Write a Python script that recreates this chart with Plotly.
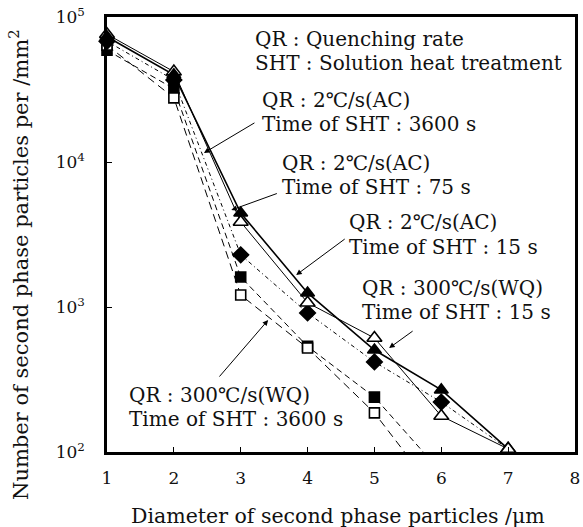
import plotly.graph_objects as go

# Particle diameter classes (um)
diameter = [1, 2, 3, 4, 5, 6, 7]
wq_diameter = [1, 2, 3, 4, 5]

# Number of second phase particles per mm^2
ac_3600 = [73000, 40000, 4450, 1250, 505, 268, 105]   # QR 2 C/s (AC), SHT 3600 s
ac_75 = [76000, 42000, 3860, 1070, 611, 177, 105]     # QR 2 C/s (AC), SHT 75 s
ac_15 = [68000, 36800, 2290, 910, 418, 221, 105]      # QR 2 C/s (AC), SHT 15 s
wq_15 = [59000, 32000, 1610, 535, 239]                # QR 300 C/s (WQ), SHT 15 s
wq_3600 = [64000, 27700, 1210, 521, 186]              # QR 300 C/s (WQ), SHT 3600 s

# Where the WQ curves run out to the lower axis
wq_15_tail = (5.73, 100)
wq_3600_tail = (5.45, 100)

x_ticks = [1, 2, 3, 4, 5, 6, 7, 8]
y_ticks = [100, 1000, 10000, 100000]
y_ticktext = ["10<sup>2</sup>", "10<sup>3</sup>", "10<sup>4</sup>", "10<sup>5</sup>"]

FONT = "DejaVu Serif"
W, H = 583, 527
ML, MR, MT, MB = 107, 3, 17, 75
PW, PH = W - ML - MR, H - MT - MB


def paper(px, py):
    return (px - ML) / PW, (H - MB - py) / PH


fig = go.Figure()

# curves
fig.add_trace(go.Scatter(x=wq_diameter + [wq_3600_tail[0]], y=wq_3600 + [wq_3600_tail[1]],
                         mode="lines", line=dict(color="black", width=1, dash="8px,5px"),
                         hoverinfo="skip"))
fig.add_trace(go.Scatter(x=wq_diameter + [wq_15_tail[0]], y=wq_15 + [wq_15_tail[1]],
                         mode="lines", line=dict(color="black", width=1, dash="6px,4px"),
                         hoverinfo="skip"))
fig.add_trace(go.Scatter(x=diameter, y=ac_15, mode="lines",
                         line=dict(color="black", width=1, dash="4px,3px,1px,3px"),
                         hoverinfo="skip"))
fig.add_trace(go.Scatter(x=diameter, y=ac_75, mode="lines",
                         line=dict(color="black", width=1), hoverinfo="skip"))
fig.add_trace(go.Scatter(x=diameter, y=ac_3600, mode="lines",
                         line=dict(color="black", width=1.6), hoverinfo="skip"))


# markers
def markers(xs, ys, symbol, size, fill):
    fig.add_trace(go.Scatter(
        x=xs, y=ys, mode="markers", cliponaxis=False,
        marker=dict(symbol=symbol, size=size, color=fill,
                    line=dict(color="black", width=1.6))))


markers(wq_diameter, wq_15, "square", 10, "black")
markers(wq_diameter, wq_3600, "square", 10, "white")
markers(diameter[:-1], ac_15, "diamond", 12, "black")
markers(diameter, ac_75, "triangle-up", 13, "white")
markers(diameter[:-1], ac_3600[:-1], "triangle-up", 12, "black")
markers(diameter[-1:], ac_75[-1:], "triangle-up", 13, "white")

annotations = []

# text lines: (text, left px, center px)
text_lines = [
    ("QR : Quenching rate", 255, 39),
    ("SHT : Solution heat treatment", 255, 63),
    ("QR : 2℃/s(AC)", 262, 100),
    ("Time of SHT : 3600 s", 262, 124),
    ("QR : 2℃/s(AC)", 282, 163),
    ("Time of SHT : 75 s", 282, 187),
    ("QR : 2℃/s(AC)", 350, 222),
    ("Time of SHT : 15 s", 350, 247),
    ("QR : 300℃/s(WQ)", 363, 288),
    ("Time of SHT : 15 s", 363, 312),
    ("QR : 300℃/s(WQ)", 127, 395),
    ("Time of SHT : 3600 s", 127, 419),
]
for txt, px, py in text_lines:
    xp, yp = paper(px, py)
    annotations.append(dict(text=txt, x=xp, y=yp, xref="paper", yref="paper",
                            xanchor="left", yanchor="middle", showarrow=False,
                            font=dict(family=FONT, size=20, color="#111")))

# arrows: head in data coords (x, log10 y), tail offset in px
arrows = [
    (2.45, 4.062, 52, -31),
    (2.86, 3.669, 47, -17),
    (3.83, 3.221, 50, -37),
    (5.22, 2.717, 25, -18),
    (3.41, 2.910, -50, 58),
]
for hx, hy, dx, dy in arrows:
    annotations.append(dict(x=hx, y=hy, xref="x", yref="y", ax=dx, ay=dy,
                            showarrow=True, arrowhead=2, arrowsize=1.1,
                            arrowwidth=1, arrowcolor="black", text=""))

# axis titles
xp, yp = paper(340, 516)
annotations.append(dict(text="Diameter of second phase particles /μm", x=xp, y=yp,
                        xref="paper", yref="paper", showarrow=False,
                        xanchor="center", yanchor="middle",
                        font=dict(family=FONT, size=20.5, color="#111")))
xp, yp = paper(18, 265)
annotations.append(dict(text="Number of second phase particles per /mm<sup>2</sup>",
                        x=xp, y=yp, xref="paper", yref="paper", showarrow=False,
                        xanchor="center", yanchor="middle", textangle=-90,
                        font=dict(family=FONT, size=21, color="#111")))

fig.update_layout(
    width=W, height=H,
    margin=dict(l=ML, r=MR, t=MT, b=MB),
    paper_bgcolor="white", plot_bgcolor="white",
    showlegend=False,
    annotations=annotations,
    xaxis=dict(range=[1, 8], tickvals=x_ticks, showgrid=False, zeroline=False,
               showline=True, mirror=True, linecolor="black", linewidth=2.5,
               ticks="inside", ticklen=5, tickwidth=1.2, tickcolor="black",
               ticklabelstandoff=9,
               tickfont=dict(family=FONT, size=17, color="#111")),
    yaxis=dict(type="log", range=[2, 5], tickvals=y_ticks, ticktext=y_ticktext,
               showgrid=False, zeroline=False,
               showline=True, mirror=True, linecolor="black", linewidth=2.5,
               ticks="inside", ticklen=5, tickwidth=1.2, tickcolor="black",
               ticklabelstandoff=16,
               tickfont=dict(family=FONT, size=17, color="#111")),
)

fig.write_html("out.html")
